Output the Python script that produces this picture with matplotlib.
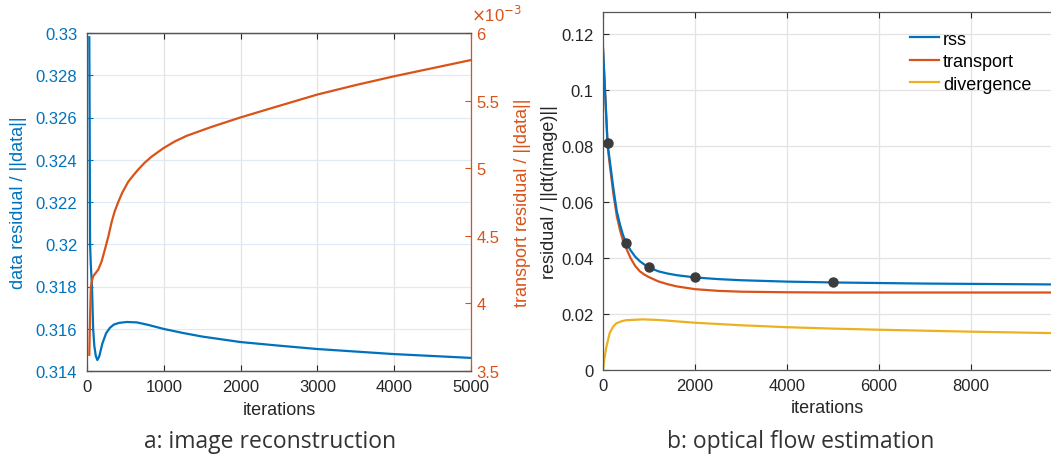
import numpy as np
import matplotlib.pyplot as plt

# panel a: image reconstruction (two y axes)
a_iter_data = [30, 35, 40, 50, 65, 80, 95, 115, 135, 160, 200, 250, 300, 350, 420, 520,
               650, 800, 1000, 1250, 1500, 1750, 2000, 2500, 3000, 3500, 4000, 4500, 5000]
a_data_res = [0.3298, 0.3255, 0.3200, 0.3190, 0.3180, 0.3160, 0.3152, 0.3147, 0.31452, 0.3147,
              0.3153, 0.3158, 0.31605, 0.3162, 0.31628, 0.31632, 0.3163, 0.31618, 0.31599,
              0.3158, 0.31563, 0.3155, 0.31537, 0.3152, 0.31504, 0.31492, 0.3148, 0.31471, 0.31462]

a_iter_tr = [30, 40, 50, 65, 80, 120, 147, 190, 234, 280, 320, 360, 407, 460, 537, 600, 667,
             750, 840, 1000, 1150, 1300, 1619, 1996, 2377, 3000, 3500, 4000, 4500, 5000]
a_transport = [3.62, 3.90, 4.12, 4.17, 4.20, 4.23, 4.25, 4.31, 4.40, 4.50, 4.60, 4.68, 4.75,
               4.82, 4.90, 4.945, 4.99, 5.04, 5.085, 5.15, 5.20, 5.24, 5.305, 5.375, 5.44,
               5.545, 5.615, 5.68, 5.74, 5.80]

# panel b: optical flow estimation
b_iter = [0, 100, 150, 225, 300, 370, 430, 500, 600, 700, 800, 900, 1000, 1200, 1400, 1600,
          2000, 2500, 3000, 4000, 5000, 7000, 9740]
b_rss = [0.115, 0.081, 0.0745, 0.065, 0.0567, 0.052, 0.0485, 0.0455, 0.0428, 0.0405, 0.0389,
         0.0377, 0.0367, 0.0353, 0.0345, 0.0339, 0.0331, 0.0325, 0.0321, 0.0316, 0.0313,
         0.0309, 0.0306]
b_transport = [0.115, 0.080, 0.073, 0.063, 0.055, 0.050, 0.0465, 0.0437, 0.0400, 0.0372,
               0.0353, 0.0341, 0.0332, 0.0317, 0.0307, 0.0299, 0.0289, 0.0283, 0.0280,
               0.0278, 0.0277, 0.0277, 0.0277]
b_marked = [100, 500, 1000, 2000, 5000]

b_iter_div = [0, 30, 70, 145, 220, 290, 400, 500, 860, 1200, 2000, 3000, 4000, 5000, 6000, 8000, 9740]
b_divergence = [0.0, 0.004, 0.008, 0.0132, 0.0155, 0.0167, 0.0174, 0.0178, 0.0181, 0.0179,
                0.0169, 0.0160, 0.0153, 0.0148, 0.0144, 0.0137, 0.0132]

blue = '#0072BD'
orange = '#D95319'
yellow = '#EDB120'
dark = '#262626'

plt.rcParams['font.family'] = ['Liberation Sans', 'DejaVu Sans']
plt.rcParams['font.size'] = 12

fig = plt.figure(figsize=(10.51, 4.64), dpi=100)


def style(ax):
    ax.tick_params(direction='in', length=4, width=0.8)
    for s in ax.spines.values():
        s.set_color('#555555')
        s.set_linewidth(0.9)


# --- a ---
ax1 = fig.add_axes([87 / 1051, 1 - 372 / 464, 384 / 1051, 338 / 464])
ax2 = ax1.twinx()
ax1.plot(a_iter_data, a_data_res, color=blue, lw=1.6)
ax2.plot(a_iter_tr, a_transport, color=orange, lw=1.6)

ax1.set_xlim(0, 5000)
ax1.set_ylim(0.314, 0.33)
ax2.set_ylim(3.5, 6.0)
ax1.set_xticks(np.arange(0, 5001, 1000))
ax1.set_yticks(np.arange(0.314, 0.3301, 0.002))
ax1.set_yticklabels(['0.314', '0.316', '0.318', '0.32', '0.322', '0.324', '0.326', '0.328', '0.33'])
ax2.set_yticks([3.5, 4, 4.5, 5, 5.5, 6])
ax2.set_yticklabels(['3.5', '4', '4.5', '5', '5.5', '6'])

style(ax1)
style(ax2)
ax1.tick_params(axis='x', top=True, colors=dark, pad=6)
ax1.tick_params(axis='y', colors=blue, pad=7)
ax2.tick_params(axis='y', colors=orange, pad=4)
ax2.spines['right'].set_color(orange)
ax2.spines['left'].set_visible(False)
ax1.spines['right'].set_visible(False)

ax1.xaxis.grid(True, color='#e3e3e3', lw=0.9)
ax1.yaxis.grid(True, color='#deebf6', lw=0.9)
ax1.set_axisbelow(True)

ax1.set_xlabel('iterations', fontsize=13, color=dark)
ax1.xaxis.set_label_coords(0.5, -0.09)
ax1.set_ylabel('data residual / ||data||', fontsize=13, color=blue)
ax1.yaxis.set_label_coords(-0.155, 0.5)
ax2.set_ylabel('transport residual / ||data||', fontsize=13, color=orange)
ax2.yaxis.set_label_coords(1.112, 0.5)
ax2.text(1.0, 1.028, r'$\times$10$^{-3}$', transform=ax2.transAxes, color=orange,
         fontsize=12, ha='left', va='bottom')

# --- b ---
ax3 = fig.add_axes([603 / 1051, 1 - 371 / 464, 448 / 1051, 358 / 464])
ax3.plot(b_iter, b_rss, color=blue, lw=1.6, label='rss', zorder=3)
ax3.plot(b_iter, b_transport, color=orange, lw=1.6, label='transport', zorder=2)
ax3.plot(b_iter_div, b_divergence, color=yellow, lw=1.6, label='divergence', zorder=2)
ax3.plot(b_iter, b_rss, ls='none', marker='o', ms=6.5, color='#3c3c3c',
         markevery=[b_iter.index(i) for i in b_marked], zorder=4)

ax3.set_xlim(0, 9740)
ax3.set_ylim(0, 0.128)
ax3.set_xticks(np.arange(0, 9001, 2000))
ax3.set_yticks(np.arange(0, 0.121, 0.02))
ax3.set_yticklabels(['0', '0.02', '0.04', '0.06', '0.08', '0.1', '0.12'])
style(ax3)
ax3.spines['right'].set_visible(False)
ax3.tick_params(axis='x', top=True, colors=dark, pad=6)
ax3.tick_params(axis='y', colors=dark, pad=7)
ax3.grid(True, color='#e3e3e3', lw=0.9)
ax3.set_axisbelow(True)

ax3.set_xlabel('iterations', fontsize=13, color=dark)
ax3.xaxis.set_label_coords(0.5, -0.082)
ax3.set_ylabel('residual / ||dt(image)||', fontsize=13, color=dark)
ax3.yaxis.set_label_coords(-0.1, 0.5)

ax3.legend(loc='upper left', bbox_to_anchor=(0.67, 0.968), frameon=False, fontsize=13,
           handlelength=1.6, handletextpad=0.2, labelspacing=0.3, borderaxespad=0)

fig.text(270 / 1051, 1 - 442 / 464, 'a: image reconstruction', family='Open Sans',
         fontsize=16.5, color='#333333', ha='center', va='center')
fig.text(801 / 1051, 1 - 442 / 464, 'b: optical flow estimation', family='Open Sans',
         fontsize=16.5, color='#333333', ha='center', va='center')

fig.savefig('out.png', dpi=100)
